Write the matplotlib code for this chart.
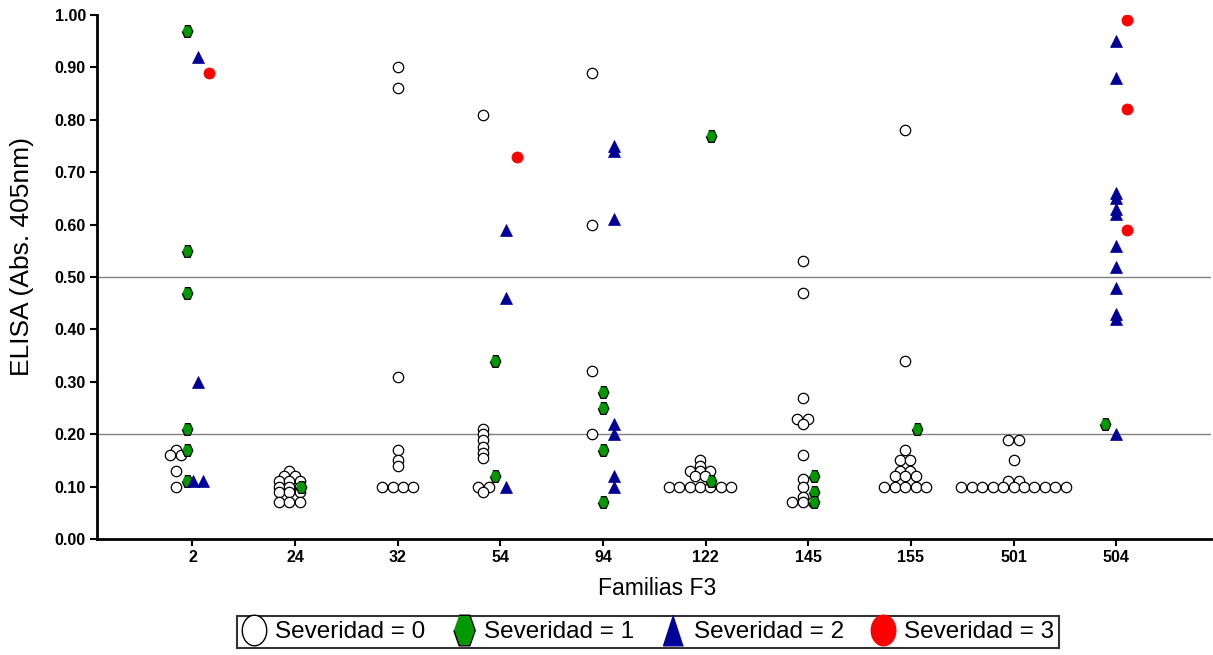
import matplotlib.pyplot as plt
from matplotlib.lines import Line2D
import numpy as np

plt.rcParams['font.family'] = ['Liberation Sans', 'DejaVu Sans']

familias = ['2', '24', '32', '54', '94', '122', '145', '155', '501', '504']

# ELISA values per family, one list per severity class
sev0 = [
    [0.17, 0.16, 0.16, 0.13, 0.10],
    [0.13, 0.12, 0.12, 0.11, 0.11, 0.11, 0.10, 0.10, 0.10, 0.09, 0.09, 0.09, 0.07, 0.07, 0.07],
    [0.90, 0.86, 0.31, 0.17, 0.15, 0.14, 0.10, 0.10, 0.10, 0.10],
    [0.81, 0.21, 0.20, 0.19, 0.175, 0.165, 0.155, 0.10, 0.10, 0.09],
    [0.89, 0.60, 0.32, 0.20],
    [0.15, 0.14, 0.13, 0.13, 0.13, 0.12, 0.12, 0.10, 0.10, 0.10, 0.10, 0.10, 0.10, 0.10],
    [0.53, 0.47, 0.27, 0.23, 0.23, 0.22, 0.16, 0.115, 0.10, 0.08, 0.07, 0.07, 0.07],
    [0.78, 0.34, 0.17, 0.15, 0.15, 0.13, 0.13, 0.12, 0.12, 0.12, 0.10, 0.10, 0.10, 0.10, 0.10],
    [0.19, 0.19, 0.15, 0.11, 0.11, 0.10, 0.10, 0.10, 0.10, 0.10, 0.10, 0.10, 0.10, 0.10, 0.10, 0.10],
    [],
]
sev1 = [
    [0.97, 0.55, 0.47, 0.21, 0.17, 0.11],
    [0.10],
    [],
    [0.34, 0.12],
    [0.28, 0.25, 0.17, 0.07],
    [0.77, 0.11],
    [0.12, 0.09, 0.07],
    [0.21],
    [],
    [0.22],
]
sev2 = [
    [0.92, 0.30, 0.11, 0.11],
    [],
    [],
    [0.59, 0.46, 0.10],
    [0.75, 0.74, 0.61, 0.22, 0.20, 0.12, 0.10],
    [],
    [],
    [],
    [],
    [0.95, 0.88, 0.66, 0.65, 0.63, 0.62, 0.56, 0.52, 0.48, 0.43, 0.42, 0.20],
]
sev3 = [
    [0.89],
    [],
    [],
    [0.73],
    [],
    [],
    [],
    [],
    [],
    [0.99, 0.82, 0.59],
]
etiquetas = ['Severidad = 0', 'Severidad = 1', 'Severidad = 2', 'Severidad = 3']

verde = '#009900'
azul = '#000099'
rojo = '#ff0000'

hexa = [(-0.45, 1), (0.45, 1), (0.9, 0), (0.45, -1), (-0.45, -1), (-0.9, 0)]
hexa_leg = [(-0.35, 1), (0.35, 1), (0.7, 0), (0.35, -1), (-0.35, -1), (-0.7, 0)]
t = np.linspace(0, 2 * np.pi, 60)
elipse = list(zip(0.8 * np.cos(t), np.sin(t)))
tri_leg = [(0, 1), (-0.65, -1), (0.65, -1)]

estilos = [
    dict(marker='o', s=56, facecolor='white', edgecolor='black', linewidths=0.9),
    dict(marker=hexa, s=72, facecolor=verde, edgecolor='black', linewidths=0.9),
    dict(marker='^', s=74, facecolor=azul, edgecolor=azul, linewidths=0.5),
    dict(marker='o', s=64, facecolor=rojo, edgecolor=rojo, linewidths=0.5),
]


def fila_x(vals, centro, paso):
    # same value -> side by side, centred on the sub-column
    vals = np.asarray(vals, dtype=float)
    xs = np.zeros(len(vals))
    for v in np.unique(vals):
        idx = np.where(np.isclose(vals, v))[0]
        n = len(idx)
        xs[idx] = centro + (np.arange(n) - (n - 1) / 2) * paso
    return xs


fig = plt.figure(figsize=(12.13, 6.55), dpi=100)
ax = fig.add_axes([0.080, 0.177, 0.918, 0.800])

series = [sev0, sev1, sev2, sev3]
gap = 0.11
paso = 0.102
for i, fam in enumerate(familias):
    presentes = [k for k in range(4) if len(series[k][i]) > 0]
    offs = (np.arange(len(presentes)) - (len(presentes) - 1) / 2) * gap
    for k, off in zip(presentes, offs):
        vals = series[k][i]
        xs = fila_x(vals, i + off, paso)
        ax.scatter(xs, vals, zorder=3 + k, **estilos[k])

for yv in [0.2, 0.5]:
    ax.axhline(yv, color='#808080', lw=1.0, zorder=1)

ax.set_xlim(-0.93, 9.92)
ax.set_ylim(0, 1.0)
ax.set_xticks(range(len(familias)))
ax.set_xticklabels(familias)
ax.set_yticks(np.arange(0, 1.01, 0.1))
ax.set_yticklabels(['%.2f' % v for v in np.arange(0, 1.01, 0.1)])
for lab in ax.get_xticklabels() + ax.get_yticklabels():
    lab.set_fontweight('bold')
    lab.set_fontsize(11.5)
ax.tick_params(direction='out', length=5, width=1.5, color='black', pad=3)
ax.spines['top'].set_visible(False)
ax.spines['right'].set_visible(False)
ax.spines['left'].set_linewidth(2)
ax.spines['bottom'].set_linewidth(2)

ax.set_xlabel('Familias F3', fontsize=16.5)
ax.set_ylabel('ELISA (Abs. 405nm)', fontsize=19)
ax.xaxis.set_label_coords(0.503, -0.073)
ax.yaxis.set_label_coords(-0.057, 0.54)

handles = [
    Line2D([], [], ls='none', marker=elipse, markersize=22, markerfacecolor='white',
           markeredgecolor='black', markeredgewidth=1),
    Line2D([], [], ls='none', marker=hexa_leg, markersize=22, markerfacecolor=verde,
           markeredgecolor='black', markeredgewidth=1),
    Line2D([], [], ls='none', marker=tri_leg, markersize=22, markerfacecolor=azul,
           markeredgecolor=azul),
    Line2D([], [], ls='none', marker=elipse, markersize=22, markerfacecolor=rojo,
           markeredgecolor=rojo),
]
leg = fig.legend(handles, etiquetas, loc='center', bbox_to_anchor=(0.534, 0.035),
                 ncol=4, frameon=True, fancybox=False, edgecolor='black',
                 fontsize=17.5, handlelength=1.0, handletextpad=0.35,
                 columnspacing=1.1, borderpad=0.2, borderaxespad=0)
leg.get_frame().set_linewidth(1.5)

fig.savefig('out.png', dpi=100)
